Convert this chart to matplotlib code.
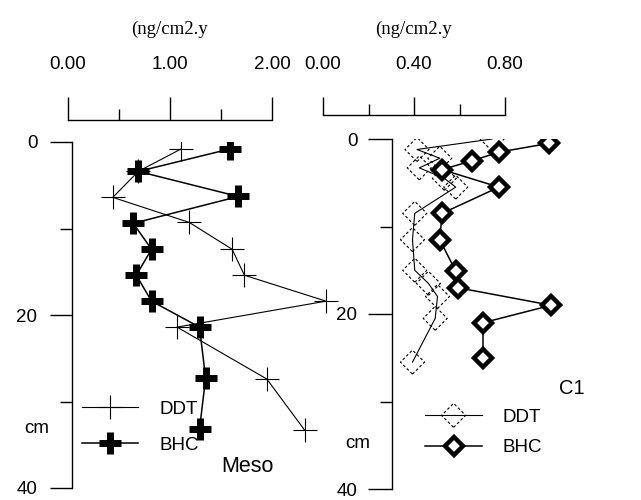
import matplotlib.pyplot as plt
from matplotlib.ticker import FormatStrFormatter
from matplotlib.legend_handler import HandlerTuple

plt.rcParams["font.family"] = ["Liberation Sans", "DejaVu Sans"]

# Meso core (left panel), flux in ng/cm2.y against depth in cm
meso_ddt_depth = [0.8, 3.4, 6.4, 9.3, 12.4, 15.4, 18.4, 21.4, 27.4, 33.3]
meso_ddt = [1.07, 0.65, 0.40, 1.15, 1.57, 1.69, 2.49, 1.03, 1.91, 2.28]
meso_bhc_depth = [0.8, 3.4, 6.3, 9.4, 12.4, 15.4, 18.4, 21.4, 27.3, 33.2]
meso_bhc = [1.55, 0.65, 1.63, 0.60, 0.78, 0.63, 0.78, 1.25, 1.31, 1.25]

# C1 core (right panel)
c1_ddt_depth = [0.0, 1.2, 2.2, 3.3, 4.5, 5.5, 8.5, 11.5, 15.0, 16.5, 18.0, 20.5, 25.5]
c1_ddt = [0.44, 0.11, 0.21, 0.12, 0.23, 0.28, 0.10, 0.09, 0.10, 0.16, 0.20, 0.19, 0.09]
c1_bhc_depth = [0.5, 1.5, 2.5, 3.5, 5.5, 8.5, 11.5, 15.1, 17.0, 19.0, 21.0, 25.0]
c1_bhc = [0.69, 0.47, 0.35, 0.22, 0.47, 0.22, 0.21, 0.28, 0.29, 0.70, 0.40, 0.40]

depth_major = [0, 20, 40]
depth_minor = [10, 30]

W, H = 641, 500
fig = plt.figure(figsize=(W / 100, H / 100), dpi=100)


def px_axes(left, top, right, bottom):
    ax = fig.add_axes([left / W, 1 - bottom / H, (right - left) / W, (bottom - top) / H])
    ax.patch.set_visible(False)
    return ax


def scale_axes(ax, xmax, majors, minors, major_len):
    """Axe d'échelle en haut: ligne de base, graduations vers le haut, étiquettes au-dessus."""
    ax.set_xlim(0, xmax)
    ax.set_ylim(0, 1)
    for side in ["left", "right", "top"]:
        ax.spines[side].set_visible(False)
    ax.spines["bottom"].set_linewidth(1)
    ax.set_yticks([])
    ax.set_xticks(majors)
    ax.set_xticks(minors, minor=True)
    ax.xaxis.set_major_formatter(FormatStrFormatter("%.2f"))
    ax.tick_params(axis="x", which="both", direction="in", bottom=True, top=False,
                   labelbottom=False, labeltop=True, width=1, pad=3, labelsize=13.5)
    ax.tick_params(axis="x", which="major", length=major_len)
    ax.tick_params(axis="x", which="minor", length=8)
    ax.xaxis.set_label_position("top")
    ax.set_xlabel("(ng/cm2.y", family="Liberation Serif", fontsize=13.5, labelpad=15.5)


def depth_axes(ax, xmax, major_len, minor_len, pad):
    ax.set_xlim(0, xmax)
    ax.set_ylim(40, 0)
    for side in ["right", "top", "bottom"]:
        ax.spines[side].set_visible(False)
    ax.spines["left"].set_linewidth(1)
    ax.set_xticks([])
    ax.set_yticks(depth_major)
    ax.set_yticks(depth_minor, minor=True)
    ax.yaxis.set_major_formatter(FormatStrFormatter("%d"))
    ax.tick_params(axis="y", which="both", direction="out", width=1, pad=pad, labelsize=13.5)
    ax.tick_params(axis="y", which="major", length=major_len)
    ax.tick_params(axis="y", which="minor", length=minor_len)


# --- Meso ---
top1 = px_axes(68, 77, 272, 120)
scale_axes(top1, 2.0, [0, 1, 2], [0.5, 1.5], 16.5)

ax1 = px_axes(72, 142, 345, 488)
depth_axes(ax1, (345 - 72) / 102, 16, 8.5, 9)
l_ddt, = ax1.plot(meso_ddt, meso_ddt_depth, color="k", lw=0.8, marker="+", ms=17, mew=0.8)
l_bhc, = ax1.plot(meso_bhc, meso_bhc_depth, color="k", lw=1.1, marker="+", ms=16, mew=5)
ax1.legend([l_ddt, l_bhc], ["DDT", "BHC"], loc="center left",
           bbox_to_anchor=(82 / W, 1 - 427 / H), bbox_transform=fig.transFigure,
           frameon=False, borderpad=0, borderaxespad=0, handlelength=3.0,
           handletextpad=1.15, labelspacing=1.0, fontsize=13.5, numpoints=1)
ax1.text(-0.13, 33.1, "cm", transform=ax1.get_yaxis_transform(), ha="center", va="center",
         fontsize=13.5)
ax1.text(247, H - 466, "Meso", transform=None, fontsize=15.5, ha="center", va="center")

# --- C1 ---
top2 = px_axes(323, 77, 505, 115)
scale_axes(top2, 0.8, [0, 0.4, 0.8], [0.2, 0.6], 13)

ax2 = px_axes(392, 139, 635, 489)
depth_axes(ax2, (635 - 392) / 227.5, 17, 8.5, 8)
c_line, = ax2.plot(c1_ddt, c1_ddt_depth, color="k", lw=0.8)
c_pts = ax2.scatter(c1_ddt, c1_ddt_depth, marker="D", s=150, facecolors="none",
                    edgecolors="k", linewidths=0.8, linestyles=(0, (2.5, 2)), zorder=3)
c_bhc, = ax2.plot(c1_bhc, c1_bhc_depth, color="k", lw=1.1, marker="D", ms=9,
                  mfc="white", mec="k", mew=3.2, zorder=4)
ax2.legend([(c_line, c_pts), c_bhc], ["DDT", "BHC"], loc="center left",
           bbox_to_anchor=(425 / W, 1 - 432.5 / H), bbox_transform=fig.transFigure,
           frameon=False, borderpad=0, borderaxespad=0, handlelength=3.05,
           handletextpad=1.1, labelspacing=0.7, fontsize=13.5, numpoints=1,
           scatterpoints=1, scatteryoffsets=[0.5],
           handler_map={tuple: HandlerTuple(ndivide=1)})
ax2.text(-34 / 243, 34.8, "cm", transform=ax2.get_yaxis_transform(), ha="center",
         va="center", fontsize=13.5)
ax2.text(572, H - 388, "C1", transform=None, fontsize=14.5, ha="center", va="center")

fig.savefig("out.png", dpi=100, facecolor="white")
